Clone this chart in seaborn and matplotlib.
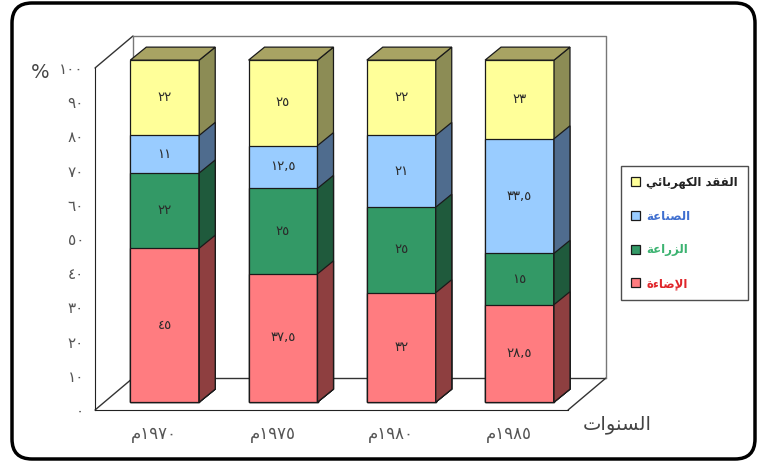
import numpy as np
import matplotlib
matplotlib.use('Agg')
import matplotlib.pyplot as plt
from matplotlib.patches import Polygon, Patch, FancyBboxPatch
import seaborn as sns

# Data (percent of electricity use)
years = ['1970', '1975', '1980', '1985']
series = ['الإضاءة', 'الزراعة', 'الصناعة', 'الفقد الكهربائي']
lighting = [45, 37.5, 32, 28.5]
agriculture = [22, 25, 25, 15]
industry = [11, 12.5, 21, 33.5]
loss = [22, 25, 22, 23]
y_ticks = [0, 10, 20, 30, 40, 50, 60, 70, 80, 90, 100]

front_colors = ['#FF7C80', '#339966', '#99CCFF', '#FFFF99']
side_colors = ['#8E3F40', '#1F5A3C', '#4F6C8E', '#8C8C55']
top_color = '#A8A363'
text_colors = ['#E0262B', '#3CB371', '#3F6FD0', '#222222']

# matplotlib has no arabic shaping / bidi, so do it by hand
DUAL = {'ب': 0xFE8F, 'ت': 0xFE95, 'ئ': 0xFE89, 'س': 0xFEB1, 'ص': 0xFEB9, 'ض': 0xFEBD,
        'ع': 0xFEC9, 'ف': 0xFED1, 'ق': 0xFED5, 'ك': 0xFED9, 'ل': 0xFEDD, 'م': 0xFEE1,
        'ن': 0xFEE5, 'ه': 0xFEE9, 'ي': 0xFEF1}
RIGHT = {'ا': 0xFE8D, 'أ': 0xFE83, 'إ': 0xFE87, 'ة': 0xFE93, 'د': 0xFEA9, 'ر': 0xFEAD,
         'ز': 0xFEAF, 'و': 0xFEED, 'ء': 0xFE80}
LAM_ALEF = {'ا': 0xFEFB, 'أ': 0xFEF7, 'إ': 0xFEF9}


def ar(text):
    tokens = []
    i = 0
    while i < len(text):
        if text[i] == 'ل' and i + 1 < len(text) and text[i + 1] in LAM_ALEF:
            tokens.append(('la', text[i + 1]))
            i += 2
        else:
            tokens.append(text[i])
            i += 1

    def links_next(t):
        return not isinstance(t, tuple) and t in DUAL

    def links_prev(t):
        return isinstance(t, tuple) or ((t in DUAL or t in RIGHT) and t != 'ء')

    out = []
    for k, t in enumerate(tokens):
        prev = tokens[k - 1] if k > 0 else None
        nxt = tokens[k + 1] if k + 1 < len(tokens) else None
        jp = prev is not None and links_next(prev) and links_prev(t)
        jn = nxt is not None and links_next(t) and links_prev(nxt)
        if isinstance(t, tuple):
            out.append(chr(LAM_ALEF[t[1]] + int(jp)))
        elif t in DUAL:
            out.append(chr(DUAL[t] + int(jp) + 2 * int(jn)))
        elif t in RIGHT:
            out.append(chr(RIGHT[t] + (int(jp) if t != 'ء' else 0)))
        else:
            out.append(t)
    return ''.join(reversed(out))


def ar_num(v):
    s = f'{v:g}'.replace('.', ',')
    return s.translate(str.maketrans('0123456789', '٠١٢٣٤٥٦٧٨٩'))


sns.set_style('white')
plt.rcParams['font.family'] = ['DejaVu Sans']

fig = plt.figure(figsize=(7.59, 4.66), dpi=100)
ax = fig.add_axes([0.1252, 0.1202, 0.6232, 0.7339])

values = np.array([lighting, agriculture, industry, loss])
tops = np.cumsum(values, axis=0)

# 3d look: floor depth, bar offset into the floor, bar depth (data units)
DX, DY = 0.321, 9.36
SX, SY = 0.09, 2.3
BX, BY = 0.135, 3.8
bar_w = 0.583

# stack by overplotting cumulative totals, top series first
order = list(reversed(range(len(series))))
for s in order:
    sns.barplot(x=years, y=tops[s], color=front_colors[s], saturation=1, width=bar_w,
                edgecolor='#1a1a1a', linewidth=0.9, ax=ax)

bars = list(ax.patches)
for n, p in enumerate(bars):
    s = order[n // len(years)]
    p.set_x(p.get_x() + SX)
    p.set_y(p.get_y() + SY)
    p.set_clip_on(False)
    x0, y0, w, h = p.get_x(), p.get_y(), p.get_width(), p.get_height()
    ax.add_patch(Polygon([(x0 + w, y0), (x0 + w + BX, y0 + BY), (x0 + w + BX, y0 + h + BY), (x0 + w, y0 + h)],
                         closed=True, fc=side_colors[s], ec='#1a1a1a', lw=0.9, clip_on=False))
    if s == order[0]:
        ax.add_patch(Polygon([(x0, y0 + h), (x0 + BX, y0 + h + BY), (x0 + w + BX, y0 + h + BY), (x0 + w, y0 + h)],
                             closed=True, fc=top_color, ec='#1a1a1a', lw=0.9, clip_on=False))

# segment labels
for s in range(len(series)):
    for i in range(len(years)):
        mid = tops[s][i] - values[s][i] / 2
        ax.text(i + SX, mid + SY, ar_num(values[s][i]), ha='center', va='center',
                fontsize=9.5, color='#2a2a2a')

# floor and walls
x_lo, x_hi = -0.5, len(years) - 0.5
wall = dict(color='#333333', lw=1, clip_on=False, zorder=0)
ax.plot([x_lo + DX, x_hi + DX], [DY, DY], **wall)
ax.plot([x_hi, x_hi + DX], [0, DY], **wall)
ax.plot([x_lo, x_lo + DX], [0, DY], **wall)
ax.plot([x_lo, x_lo + DX], [100, 100 + DY], **wall)
ax.plot([x_lo + DX, x_lo + DX, x_hi + DX, x_hi + DX], [DY, 100 + DY, 100 + DY, DY],
        color='#777777', lw=1, clip_on=False, zorder=0)

ax.set_xlim(x_lo, x_hi)
ax.set_ylim(0, 100)
for side in ['top', 'right']:
    ax.spines[side].set_visible(False)
ax.spines['left'].set_color('#222222')
ax.spines['bottom'].set_color('#222222')

ax.set_yticks(y_ticks, labels=[ar_num(t) for t in y_ticks])
ax.tick_params(axis='y', direction='out', length=5, color='#222222', labelsize=11,
               labelcolor='#555555', pad=3)
ax.set_xticks(np.arange(len(years) + 1) - 0.5, labels=[''] * (len(years) + 1))
ax.set_xticks(np.arange(len(years)), labels=[ar('م') + ar_num(int(y)) for y in years], minor=True)
ax.tick_params(axis='x', which='major', direction='out', length=4, color='#222222')
ax.tick_params(axis='x', which='minor', length=0, labelsize=12, labelcolor='#555555', pad=11)
ax.set_xlabel('')
ax.set_ylabel('')

fig.text(40 / 759, 1 - 73 / 466, '%', fontsize=14, color='#444444', ha='center', va='center')
fig.text(617 / 759, 1 - 425 / 466, ar('السنوات'), fontsize=14, color='#444444', ha='center', va='center')

# legend, top entry first
handles = [Patch(fc=front_colors[s], ec='#1a1a1a', lw=0.9) for s in order]
leg = fig.legend(handles, [ar(series[s]) for s in order], loc='upper left',
                 bbox_to_anchor=(621 / 759, 1 - 166 / 466), frameon=True, fancybox=False,
                 edgecolor='#222222', prop={'size': 8.5, 'weight': 'bold'}, handlelength=0.8,
                 handleheight=0.8, handletextpad=0.5, labelspacing=1.75, borderpad=0.85,
                 borderaxespad=0)
leg.get_frame().set_linewidth(1)
for t, s in zip(leg.get_texts(), order):
    t.set_color(text_colors[s])

# rounded outer border
fig.patches.append(FancyBboxPatch((0.12, 0.07), 7.43, 4.56, boxstyle='round,pad=0,rounding_size=0.2',
                                  transform=fig.dpi_scale_trans, fill=False, lw=2.5, ec='black'))

fig.savefig('out.png', dpi=100)
